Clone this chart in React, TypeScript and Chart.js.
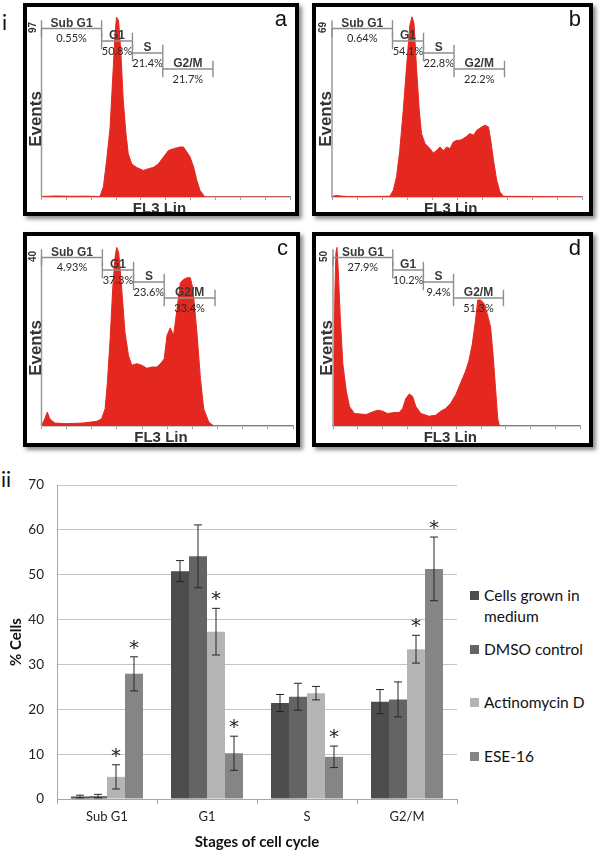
import React, { useEffect, useRef } from "react";
import { Chart, registerables } from "chart.js";

Chart.register(...registerables);

// ---------------- Histogram data (FL3 Lin channel vs events) ----------------
const histA_ch = [0, 60, 120, 180, 235, 249, 262, 276, 289, 296, 302, 310, 319, 329, 340, 349, 363, 383, 410, 430, 450, 470, 491, 511, 531, 558, 571, 585, 598, 612, 625, 638, 655, 665, 1000];
const histA_ev = [0.3, 0.6, 0.4, 0.5, 0.3, 5.8, 21, 40, 75, 94, 103.5, 101.6, 84, 55.6, 36.4, 25, 19, 17, 15.3, 16.3, 17, 19, 23, 26.8, 27.8, 28.8, 28.8, 25.9, 23, 17.3, 9.6, 3.8, 0.4, 0, 0];

const histB_ch = [0, 15, 60, 150, 231, 245, 258, 271, 285, 298, 311, 320, 328, 338, 349, 358, 372, 392, 405, 418, 432, 445, 459, 472, 485, 499, 512, 525, 539, 552, 566, 579, 599, 612, 626, 635, 646, 659, 672, 686, 1000];
const histB_ev = [0.2, 0.6, 0.2, 0.2, 0.3, 2.7, 8.2, 19, 35.5, 53, 70, 73.8, 71, 53, 35.5, 26, 21.9, 19.8, 18, 19, 20.5, 19, 20.5, 19.8, 22.5, 23.2, 23.2, 23.9, 24.9, 26, 25.3, 27.3, 28.7, 29.4, 28.7, 23.2, 15, 6.8, 2, 0.3, 0];

const histC_ch = [0, 13, 23, 33, 53, 100, 166, 219, 239, 253, 262, 273, 283, 293, 299, 307, 319, 332, 346, 359, 379, 399, 419, 439, 459, 479, 488, 499, 512, 525, 539, 552, 565, 579, 592, 602, 618, 632, 645, 665, 685, 1000];
const histC_ev = [0, 1.7, 3.3, 1.7, 0.7, 0.55, 0.7, 1.1, 1.7, 4.1, 10.4, 20.7, 32.5, 40.4, 42.4, 41.2, 32.5, 22.2, 16.7, 14.4, 14.8, 14.4, 13.7, 14, 14, 15.2, 16, 21.5, 23.3, 21.5, 27.8, 34, 34.8, 35.2, 35.2, 32.5, 22.2, 11.2, 4.1, 0.95, 0, 0];

const histD_ch = [0, 4, 8, 12, 16, 21, 30, 40, 54, 67, 87, 134, 161, 181, 201, 221, 248, 268, 282, 295, 309, 322, 336, 356, 389, 416, 436, 456, 476, 497, 517, 537, 550, 564, 577, 586, 597, 611, 624, 638, 648, 658, 667, 674, 1000];
const histD_ev = [0, 21, 41, 51.5, 53, 46.5, 31.4, 18.3, 10.3, 5.7, 3.7, 3.4, 4.2, 4.7, 4.4, 3.7, 4, 4, 5.2, 8.2, 9.5, 8.8, 5.7, 3.7, 2.9, 3.2, 4.4, 5.2, 6.7, 9.3, 12.8, 16.3, 19.3, 24.3, 31.4, 37.4, 37.4, 36.4, 33.4, 29.4, 21.3, 11.3, 2.2, 0, 0];

const gateNames = ["Sub G1", "G1", "S", "G2/M"];
const gateEdges = [0, 242, 366, 488, 690];
const pctA = ["0.55%", "50.8%", "21.4%", "21.7%"];
const pctB = ["0.64%", "54.1%", "22.8%", "22.2%"];
const pctC = ["4.93%", "37.3%", "23.6%", "33.4%"];
const pctD = ["27.9%", "10.2%", "9.4%", "51.3%"];
const yMaxLabels = [97, 69, 40, 50];
const panelLetters = ["a", "b", "c", "d"];

// ---------------- Bar chart data ----------------
const categories = ["Sub G1", "G1", "S", "G2/M"];
const seriesNames = ["Cells grown in medium", "DMSO control", "Actinomycin D", "ESE-16"];
const mediumVals = [0.55, 50.8, 21.4, 21.7];
const dmsoVals = [0.64, 54.1, 22.8, 22.2];
const actDVals = [4.93, 37.3, 23.6, 33.4];
const eseVals = [27.9, 10.2, 9.4, 51.3];
const mediumErr = [0.3, 2.35, 1.9, 2.7];
const dmsoErr = [0.4, 7.0, 3.0, 3.9];
const actDErr = [2.7, 5.2, 1.5, 3.1];
const eseErr = [3.8, 3.8, 2.4, 7.1];
const mediumSig = [false, false, false, false];
const dmsoSig = [false, false, false, false];
const actDSig = [true, true, false, true];
const eseSig = [true, true, true, true];
const yTicksMax = 70;

const RED = "#e4281f";
const AXIS_GRAY = "#9b9b9b";
const GATE_GRAY = "#8e8e8e";
const seriesColors = ["#4d4d4d", "#646464", "#b4b4b4", "#858585"];

const panels = [
  { ch: histA_ch, ev: histA_ev, pct: pctA, yLabel: yMaxLabels[0], letter: panelLetters[0], left: 23, top: 3, w: 276, h: 213, lIn: 18.5, rIn: 9 },
  { ch: histB_ch, ev: histB_ev, pct: pctB, yLabel: yMaxLabels[1], letter: panelLetters[1], left: 312, top: 3, w: 281, h: 213, lIn: 20, rIn: 11 },
  { ch: histC_ch, ev: histC_ev, pct: pctC, yLabel: yMaxLabels[2], letter: panelLetters[2], left: 23, top: 232, w: 277, h: 215, lIn: 18.5, rIn: 7 },
  { ch: histD_ch, ev: histD_ev, pct: pctD, yLabel: yMaxLabels[3], letter: panelLetters[3], left: 312, top: 232, w: 281, h: 215, lIn: 21, rIn: 13 },
];

const gateOffsets = [0, 12.5, 24.5, 40.5];

function Histogram(p: any) {
  const ref = useRef<HTMLCanvasElement>(null);
  const innerW = p.w - 8;
  const innerH = p.h - 8;
  useEffect(() => {
    const plotBottom = 190;
    const axisTopPx = 21.5;
    const yMax = (p.yLabel * plotBottom) / (plotBottom - axisTopPx);
    const annot = {
      id: "histAnnot",
      afterDatasetsDraw(chart: any) {
        const { ctx, chartArea: ca, scales } = chart;
        const x = scales.x;
        const y = scales.y;
        const axTop = y.getPixelForValue(p.yLabel);
        ctx.save();
        // y axis line
        ctx.strokeStyle = AXIS_GRAY;
        ctx.lineWidth = 1.5;
        ctx.beginPath();
        ctx.moveTo(ca.left, ca.bottom);
        ctx.lineTo(ca.left, axTop);
        ctx.stroke();
        // max label
        ctx.fillStyle = "#333";
        ctx.save();
        ctx.translate(ca.left - 8.5, axTop - 1);
        ctx.rotate(-Math.PI / 2);
        ctx.font = "bold 10px 'Liberation Sans'";
        ctx.textAlign = "center";
        ctx.textBaseline = "middle";
        ctx.fillText(String(p.yLabel), 0, 0);
        ctx.restore();
        // Events title
        ctx.save();
        ctx.translate(ca.left - 1, ca.bottom - 78);
        ctx.rotate(-Math.PI / 2);
        ctx.font = "bold 17px 'Liberation Sans'";
        ctx.fillStyle = "#333";
        ctx.textAlign = "center";
        ctx.textBaseline = "alphabetic";
        ctx.fillText("Events", 0, 0);
        ctx.restore();
        // FL3 Lin
        ctx.font = "bold 15px 'Liberation Sans'";
        ctx.fillStyle = "#333";
        ctx.textAlign = "center";
        ctx.textBaseline = "alphabetic";
        ctx.fillText("FL3 Lin", ca.left + 0.475 * (ca.right - ca.left), ca.bottom + 15.7);
        // gates
        for (let i = 0; i < gateNames.length; i++) {
          const L = axTop + gateOffsets[i];
          const x1 = x.getPixelForValue(gateEdges[i]);
          const x2 = x.getPixelForValue(gateEdges[i + 1]);
          ctx.strokeStyle = GATE_GRAY;
          ctx.lineWidth = 1.4;
          ctx.beginPath();
          ctx.moveTo(x1, L);
          ctx.lineTo(x2, L);
          ctx.moveTo(x1, L - 8.3);
          ctx.lineTo(x1, L + 8.3);
          ctx.moveTo(x2, L - 8.3);
          ctx.lineTo(x2, L + 8.3);
          ctx.stroke();
          const cx = (x1 + x2) / 2;
          ctx.fillStyle = "#3a3a3a";
          ctx.font = "bold 12px 'Liberation Sans'";
          ctx.textBaseline = "alphabetic";
          ctx.fillText(gateNames[i], cx, L - 2);
          ctx.fillStyle = "#2a2a2a";
          ctx.font = "11px Lato";
          ctx.textBaseline = "middle";
          ctx.fillText(p.pct[i], cx, L + 10);
        }
        // panel letter
        ctx.fillStyle = "#111";
        ctx.font = "22px 'Liberation Sans'";
        ctx.textAlign = "right";
        ctx.textBaseline = "alphabetic";
        ctx.fillText(p.letter, chart.width - 8, 19);
        ctx.restore();
      },
    };
    const chart = new Chart(ref.current as HTMLCanvasElement, {
      type: "line",
      data: {
        datasets: [
          {
            data: p.ch.map((c: number, i: number) => ({ x: c, y: p.ev[i] })),
            borderColor: RED,
            backgroundColor: RED,
            borderWidth: 1,
            pointRadius: 0,
            fill: "origin",
            tension: 0,
          },
        ],
      },
      options: {
        animation: false,
        responsive: false,
        maintainAspectRatio: false,
        layout: { padding: { left: p.lIn - 4, right: p.rIn - 4, top: 0, bottom: innerH - plotBottom } },
        plugins: { legend: { display: false }, tooltip: { enabled: false }, title: { display: false } },
        scales: {
          x: {
            type: "linear",
            min: 0,
            max: 1000,
            ticks: { display: false, stepSize: 100 },
            grid: { drawOnChartArea: false, drawTicks: true, tickLength: 3, color: AXIS_GRAY, lineWidth: 1 },
            border: { display: true, color: AXIS_GRAY, width: 1.5 },
            afterFit: (s: any) => {
              s.height = 0;
            },
          },
          y: { display: false, min: 0, max: yMax },
        },
      } as any,
      plugins: [annot],
    });
    return () => chart.destroy();
  }, []);
  return (
    <div
      style={{
        position: "absolute",
        left: p.left,
        top: p.top,
        width: p.w,
        height: p.h,
        boxSizing: "border-box",
        border: "4px solid #000",
        boxShadow: "3px 3px 4px rgba(0,0,0,0.45)",
        background: "#fff",
        overflow: "hidden",
      }}
    >
      <canvas ref={ref} width={innerW} height={innerH} style={{ display: "block" }} />
    </div>
  );
}

function BarChart() {
  const ref = useRef<HTMLCanvasElement>(null);
  useEffect(() => {
    const vals = [mediumVals, dmsoVals, actDVals, eseVals];
    const errs = [mediumErr, dmsoErr, actDErr, eseErr];
    const sigs = [mediumSig, dmsoSig, actDSig, eseSig];
    const errPlugin = {
      id: "errBars",
      afterDatasetsDraw(chart: any) {
        const { ctx } = chart;
        const y = chart.scales.y;
        ctx.save();
        ctx.strokeStyle = "#262626";
        ctx.lineWidth = 1;
        chart.data.datasets.forEach((_ds: any, di: number) => {
          const meta = chart.getDatasetMeta(di);
          meta.data.forEach((bar: any, j: number) => {
            const v = vals[di][j];
            const e = errs[di][j];
            const yT = y.getPixelForValue(v + e);
            const yB = y.getPixelForValue(Math.max(0, v - e));
            const cx = bar.x;
            ctx.beginPath();
            ctx.moveTo(cx, yT);
            ctx.lineTo(cx, yB);
            ctx.moveTo(cx - 4, yT);
            ctx.lineTo(cx + 4, yT);
            ctx.moveTo(cx - 4, yB);
            ctx.lineTo(cx + 4, yB);
            ctx.stroke();
            if (sigs[di][j]) {
              ctx.fillStyle = "#222";
              ctx.font = "20px 'DejaVu Sans'";
              ctx.textAlign = "center";
              ctx.textBaseline = "alphabetic";
              ctx.fillText("*", cx, yT - 3);
            }
          });
        });
        ctx.restore();
      },
    };
    const chart = new Chart(ref.current as HTMLCanvasElement, {
      type: "bar",
      data: {
        labels: categories,
        datasets: vals.map((v, i) => ({
          label: seriesNames[i],
          data: v,
          backgroundColor: seriesColors[i],
          borderWidth: 0,
          categoryPercentage: 0.72,
          barPercentage: 1,
        })),
      },
      options: {
        animation: false,
        responsive: false,
        maintainAspectRatio: false,
        layout: { padding: { top: 25, right: 13, left: 0, bottom: 0 } },
        plugins: { legend: { display: false }, tooltip: { enabled: false } },
        scales: {
          x: {
            grid: { display: true, drawOnChartArea: false, drawTicks: true, tickLength: 5, color: "#a6a6a6", offset: true },
            border: { display: true, color: "#a6a6a6" },
            ticks: { font: { family: "Lato", size: 13 }, color: "#222", padding: 5 },
            title: {
              display: true,
              text: "Stages of cell cycle",
              font: { family: "Lato", size: 15, weight: "bold", lineHeight: 1 },
              color: "#111",
              padding: 0,
            },
            afterFit: (s: any) => {
              s.height = 51;
            },
          },
          y: {
            min: 0,
            max: yTicksMax,
            ticks: { stepSize: 10, font: { family: "Lato", size: 13.5 }, color: "#222", padding: 13 },
            grid: { color: "#c4c4c4", drawTicks: false },
            border: { display: true, color: "#a6a6a6" },
            title: {
              display: true,
              text: "% Cells",
              font: { family: "Lato", size: 15, weight: "bold", lineHeight: 1 },
              color: "#111",
              padding: { top: 9, bottom: 0 },
            },
            afterFit: (s: any) => {
              s.width = 57;
            },
          },
        },
      } as any,
      plugins: [errPlugin],
    });
    return () => chart.destroy();
  }, []);
  return (
    <canvas
      ref={ref}
      width={470}
      height={390}
      style={{ position: "absolute", left: 0, top: 460, display: "block" }}
    />
  );
}

const legendTops = [584.5, 638.5, 692, 745.5];

export default function App() {
  return (
    <div
      style={{
        position: "absolute",
        left: 0,
        top: 0,
        width: 600,
        height: 850,
        background: "#fff",
        overflow: "hidden",
        fontFamily: "Lato",
      }}
    >
      <span style={{ position: "absolute", left: 2, top: 11, fontSize: 21, lineHeight: "21px", fontFamily: "Lato", color: "#111" }}>i</span>
      {panels.map((p, i) => (
        <Histogram key={i} {...p} />
      ))}
      <span style={{ position: "absolute", left: 1, top: 468, fontSize: 21, lineHeight: "21px", fontFamily: "Lato", color: "#111" }}>ii</span>
      <BarChart />
      {seriesNames.map((name, i) => (
        <div key={name} style={{ position: "absolute", left: 470, top: legendTops[i], width: 125 }}>
          <div style={{ position: "absolute", left: 0, top: 6, width: 9, height: 9, background: seriesColors[i] }} />
          <div style={{ position: "absolute", left: 14, top: 0, width: 112, fontSize: 15.5, lineHeight: "21px", color: "#111", fontFamily: "Lato" }}>
            {name}
          </div>
        </div>
      ))}
    </div>
  );
}
